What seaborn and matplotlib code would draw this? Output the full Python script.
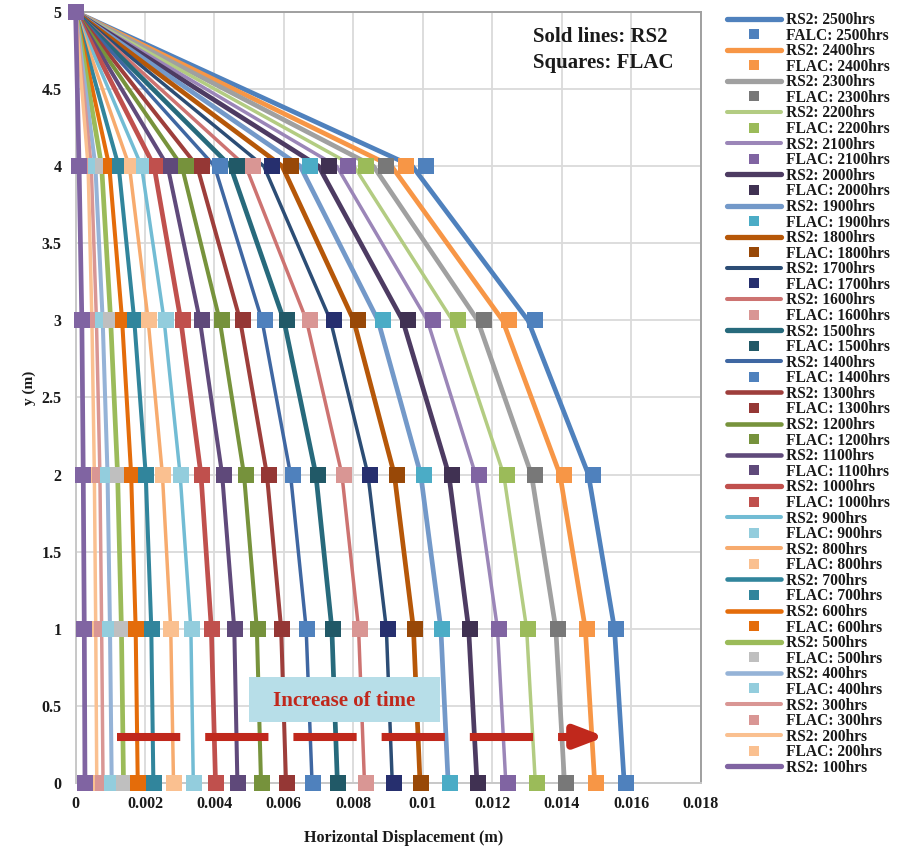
import numpy as np
import pandas as pd
import matplotlib
matplotlib.use("Agg")
import matplotlib.pyplot as plt
from matplotlib.lines import Line2D
from matplotlib.patches import Rectangle
import seaborn as sns

# ---------------- data ----------------
times = [100, 200, 300, 400, 500, 600, 700, 800, 900, 1000, 1100, 1200, 1300,
         1400, 1500, 1600, 1700, 1800, 1900, 2000, 2100, 2200, 2300, 2400, 2500]
depths = [0, 1, 2, 3, 4, 5]

# FLAC horizontal displacement (m) at each depth, one value per time
flac_y0 = [0.00028, 0.00062, 0.00080, 0.00105, 0.00139, 0.00180, 0.00225, 0.00283, 0.00340,
           0.00405, 0.00468, 0.00536, 0.00609, 0.00684, 0.00757, 0.00836, 0.00916, 0.00996,
           0.01077, 0.01160, 0.01244, 0.01330, 0.01413, 0.01500, 0.01585]
flac_y1 = [0.00025, 0.00058, 0.00076, 0.00100, 0.00133, 0.00174, 0.00220, 0.00276, 0.00334,
           0.00393, 0.00460, 0.00525, 0.00595, 0.00667, 0.00742, 0.00819, 0.00899, 0.00977,
           0.01056, 0.01137, 0.01220, 0.01304, 0.01388, 0.01473, 0.01557]
flac_y2 = [0.00022, 0.00055, 0.00071, 0.00094, 0.00123, 0.00162, 0.00204, 0.00253, 0.00304,
           0.00365, 0.00426, 0.00490, 0.00556, 0.00625, 0.00698, 0.00774, 0.00849, 0.00926,
           0.01002, 0.01084, 0.01161, 0.01243, 0.01324, 0.01406, 0.01489]
flac_y3 = [0.00018, 0.00048, 0.00061, 0.00079, 0.00103, 0.00136, 0.00172, 0.00212, 0.00259,
           0.00308, 0.00363, 0.00421, 0.00481, 0.00545, 0.00609, 0.00675, 0.00745, 0.00813,
           0.00884, 0.00956, 0.01028, 0.01102, 0.01176, 0.01249, 0.01323]
flac_y4 = [0.00010, 0.00038, 0.00047, 0.00059, 0.00078, 0.00101, 0.00129, 0.00161, 0.00198,
           0.00235, 0.00276, 0.00319, 0.00364, 0.00417, 0.00465, 0.00511, 0.00565, 0.00620,
           0.00675, 0.00730, 0.00785, 0.00837, 0.00895, 0.00951, 0.01008]
flac_y5 = [0.0] * 25

# RS2 horizontal displacement (m) at each depth, one value per time
rs2_y0 = [0.00027, 0.00061, 0.00079, 0.00104, 0.00138, 0.00179, 0.00224, 0.00282, 0.00339,
          0.00403, 0.00466, 0.00534, 0.00606, 0.00681, 0.00754, 0.00832, 0.00912, 0.00992,
          0.01073, 0.01156, 0.01239, 0.01324, 0.01408, 0.01495, 0.01580]
rs2_y1 = [0.00025, 0.00058, 0.00075, 0.00099, 0.00132, 0.00173, 0.00218, 0.00274, 0.00332,
          0.00391, 0.00457, 0.00522, 0.00592, 0.00664, 0.00738, 0.00815, 0.00895, 0.00973,
          0.01052, 0.01132, 0.01215, 0.01299, 0.01383, 0.01468, 0.01552]
rs2_y2 = [0.00022, 0.00054, 0.00070, 0.00092, 0.00121, 0.00160, 0.00202, 0.00250, 0.00301,
          0.00361, 0.00422, 0.00485, 0.00551, 0.00619, 0.00692, 0.00767, 0.00842, 0.00918,
          0.00994, 0.01075, 0.01152, 0.01233, 0.01313, 0.01395, 0.01477]
rs2_y3 = [0.00018, 0.00047, 0.00060, 0.00078, 0.00101, 0.00134, 0.00169, 0.00209, 0.00255,
          0.00303, 0.00358, 0.00415, 0.00474, 0.00537, 0.00600, 0.00665, 0.00734, 0.00801,
          0.00871, 0.00942, 0.01013, 0.01085, 0.01158, 0.01230, 0.01303]
rs2_y4 = [0.00010, 0.00036, 0.00045, 0.00057, 0.00075, 0.00097, 0.00124, 0.00155, 0.00190,
          0.00226, 0.00265, 0.00306, 0.00350, 0.00400, 0.00446, 0.00490, 0.00542, 0.00595,
          0.00647, 0.00700, 0.00752, 0.00802, 0.00858, 0.00910, 0.00970]
rs2_y5 = [0.0] * 25

x_ticks = [0, 0.002, 0.004, 0.006, 0.008, 0.01, 0.012, 0.014, 0.016, 0.018]
x_tick_labels = ["0", "0.002", "0.004", "0.006", "0.008", "0.01", "0.012", "0.014", "0.016", "0.018"]
y_ticks = [0, 0.5, 1, 1.5, 2, 2.5, 3, 3.5, 4, 4.5, 5]
y_tick_labels = ["0", "0.5", "1", "1.5", "2", "2.5", "3", "3.5", "4", "4.5", "5"]

# ---------------- styles ----------------
rs2_colors = {100: "#8064A2", 200: "#FAC090", 300: "#D99694", 400: "#95B3D7", 500: "#9BBB59",
              600: "#E46C0A", 700: "#31859C", 800: "#F7AB6E", 900: "#72BCD4", 1000: "#C0504D",
              1100: "#604A7B", 1200: "#77933C", 1300: "#9E3E3B", 1400: "#3F67A2", 1500: "#276A7C",
              1600: "#CD7371", 1700: "#2C4D75", 1800: "#B65708", 1900: "#7399C9", 2000: "#4D3B62",
              2100: "#9B86B8", 2200: "#B3CC82", 2300: "#A0A0A0", 2400: "#F79646", 2500: "#4F81BD"}
flac_colors = {100: "#8064A2", 200: "#FAC090", 300: "#D99694", 400: "#93CDDD", 500: "#BFBFBF",
               600: "#E46C0A", 700: "#31859C", 800: "#FAC090", 900: "#93CDDD", 1000: "#C0504D",
               1100: "#5F497A", 1200: "#76923C", 1300: "#953735", 1400: "#4F81BD", 1500: "#215967",
               1600: "#D99694", 1700: "#262F6E", 1800: "#984807", 1900: "#4BACC6", 2000: "#403152",
               2100: "#8064A2", 2200: "#9BBB59", 2300: "#787878", 2400: "#F79646", 2500: "#4F81BD"}
thick = {100, 500, 1000, 1500, 1800, 1900, 2000, 2300, 2400, 2500}
medium = {600, 700, 1100, 1200, 1300, 400}
def lw_of(t):
    return 3.4 if t in thick else (2.9 if t in medium else 2.5)

# ---------------- long-form tables ----------------
flac_rows = [flac_y0, flac_y1, flac_y2, flac_y3, flac_y4, flac_y5]
rs2_rows = [rs2_y0, rs2_y1, rs2_y2, rs2_y3, rs2_y4, rs2_y5]
recs = []
for di, d in enumerate(depths):
    for ti, t in enumerate(times):
        recs.append({"time": t, "y": d, "rs2": rs2_rows[di][ti], "flac": flac_rows[di][ti]})
df = pd.DataFrame(recs)

# ---------------- figure ----------------
sns.set_theme(style="white")
plt.rcParams["font.family"] = ["Liberation Serif", "DejaVu Serif"]
plt.rcParams["font.weight"] = "bold"

W, H = 901, 848
fig = plt.figure(figsize=(W / 100, H / 100), dpi=100)
x0, x1, ytop, ybot = 75.6, 700.6, 12, 783
ax = fig.add_axes([x0 / W, 1 - ybot / H, (x1 - x0) / W, (ybot - ytop) / H])

# RS2 lines (2500 first, 100 last)
for t in times[::-1]:
    sub = df[df["time"] == t].sort_values("y")
    sns.lineplot(data=sub, x="rs2", y="y", sort=False, estimator=None, ax=ax,
                 color=rs2_colors[t], lw=lw_of(t), legend=False, zorder=3,
                 solid_capstyle="butt", clip_on=False)

# FLAC squares (200..2500, then 100 on top)
for t in times[1:] + [times[0]]:
    sub = df[df["time"] == t]
    sns.scatterplot(data=sub, x="flac", y="y", ax=ax, marker="s", s=12 ** 2,
                    color=flac_colors[t], linewidth=0, legend=False, zorder=4,
                    clip_on=False)

ax.set_xlim(0, 0.018)
ax.set_ylim(0, 5)
ax.set_xticks(x_ticks)
ax.set_xticklabels(x_tick_labels)
ax.set_yticks(y_ticks)
ax.set_yticklabels(y_tick_labels)
ax.tick_params(axis="both", length=0, labelsize=11.5, colors="#1a1a1a")
ax.tick_params(axis="x", pad=9)
ax.tick_params(axis="y", pad=10)
for lab in ax.get_xticklabels() + ax.get_yticklabels():
    lab.set_fontweight("bold")
ax.grid(True, color="#DADADA", lw=1.3)
ax.set_axisbelow(True)
for side in ["top", "right"]:
    ax.spines[side].set_color("#A0A0A0")
    ax.spines[side].set_linewidth(1.4)
for side in ["left", "bottom"]:
    ax.spines[side].set_color("#C8C8C8")
    ax.spines[side].set_linewidth(1.4)

ax.set_xlabel("Horizontal Displacement (m)", fontsize=11.6, fontweight="bold", color="#1a1a1a")
ax.xaxis.set_label_coords(0.525, -0.061)
ax.set_ylabel("y (m)", fontsize=11, fontweight="bold", color="#1a1a1a")
ax.yaxis.set_label_coords(-0.064, 0.512)

# annotation: text top-right
fig.text(533 / W, 1 - 37 / H, "Sold lines: RS2", fontsize=15, fontweight="bold",
         ha="left", va="center", color="#1a1a1a")
fig.text(533 / W, 1 - 63 / H, "Squares: FLAC", fontsize=15, fontweight="bold",
         ha="left", va="center", color="#1a1a1a")

# "Increase of time" box and arrow
red = "#C0281C"
ax.add_patch(Rectangle((0.00499, 0.396), 0.0055, 0.291, fc="#B7DEE8", ec="none", zorder=6))
ax.text(0.00774, 0.535, "Increase of time", fontsize=15, fontweight="bold", color=red,
        ha="center", va="center", zorder=7)
ax.plot([0.00119, 0.0145], [0.3, 0.3], color=red, lw=5.8, dashes=(7.85, 3.1),
        solid_capstyle="butt", dash_capstyle="butt", zorder=6)
ax.annotate("", xy=(0.01525, 0.3), xytext=(0.01450, 0.3),
            arrowprops=dict(arrowstyle="-|>,head_length=1.7,head_width=0.65",
                            color=red, lw=5.8, shrinkA=0, shrinkB=0, mutation_scale=10),
            zorder=6)

# legend
handles = []
for t in times[::-1]:
    handles.append(Line2D([0], [0], color=rs2_colors[t], lw=lw_of(t) + 0.4,
                          solid_capstyle="round", label=f"RS2: {t}hrs"))
    if t != 100:
        lab = "FALC: 2500hrs" if t == 2500 else f"FLAC: {t}hrs"
        handles.append(Line2D([0], [0], color=flac_colors[t], lw=0, marker="s",
                              markersize=6.6, markeredgewidth=0, label=lab))
leg = fig.legend(handles=handles, loc="upper left", bbox_to_anchor=(727 / W, 1 - 12 / H),
                 frameon=False, fontsize=11.2, handlelength=3.5, handletextpad=0.3,
                 labelspacing=-0.027, borderpad=0, borderaxespad=0)
for txt in leg.get_texts():
    txt.set_fontweight("bold")
    txt.set_color("#1a1a1a")

fig.savefig("out.png", dpi=100)
